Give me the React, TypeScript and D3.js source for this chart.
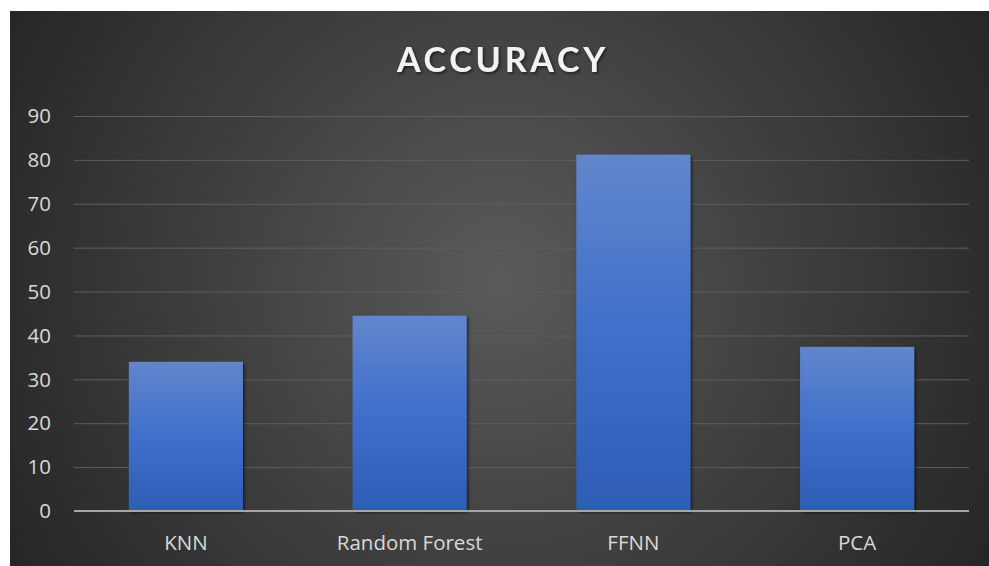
import * as d3 from 'd3';
import { FC, useEffect, useRef } from 'react';

const categories = ['KNN', 'Random Forest', 'FFNN', 'PCA'];
const accuracy = [34, 44.5, 81.2, 37.4];
const yTicks = [0, 10, 20, 30, 40, 50, 60, 70, 80, 90];

const W = 989;
const H = 566;
const labelFont = '"Open Sans", Lato, sans-serif';

const App: FC = () => {
  const ref = useRef<SVGSVGElement>(null);

  useEffect(() => {
    const svg = d3.select(ref.current);
    svg.selectAll('*').remove();

    const margin = { top: 116, right: 20, bottom: 55, left: 74 };
    const x = d3
      .scaleBand()
      .domain(categories)
      .range([margin.left, 969])
      .paddingInner(0.49)
      .paddingOuter(0.245);
    const y = d3.scaleLinear().domain([0, 90]).range([511, 116]);

    const defs = svg.append('defs');
    const bg = defs
      .append('radialGradient')
      .attr('id', 'bg')
      .attr('gradientUnits', 'userSpaceOnUse')
      .attr('cx', 500)
      .attr('cy', 280)
      .attr('r', 560);
    bg.append('stop').attr('offset', '0%').attr('stop-color', '#5a5a5a');
    bg.append('stop').attr('offset', '100%').attr('stop-color', '#262626');

    const barGrad = defs
      .append('linearGradient')
      .attr('id', 'bar')
      .attr('x1', 0)
      .attr('y1', 0)
      .attr('x2', 0)
      .attr('y2', 1);
    barGrad.append('stop').attr('offset', '0%').attr('stop-color', '#6286cc');
    barGrad.append('stop').attr('offset', '50%').attr('stop-color', '#3f6fca');
    barGrad.append('stop').attr('offset', '100%').attr('stop-color', '#2e5db5');

    const shadow = defs.append('filter').attr('id', 'shadow');
    shadow
      .append('feDropShadow')
      .attr('dx', 1.5)
      .attr('dy', 1.5)
      .attr('stdDeviation', 1.5)
      .attr('flood-color', '#000')
      .attr('flood-opacity', 0.6);

    svg
      .append('rect')
      .attr('x', 10)
      .attr('y', 11)
      .attr('width', W - 10)
      .attr('height', H - 11)
      .attr('fill', 'url(#bg)');

    // gridlines
    svg
      .append('g')
      .selectAll('line')
      .data(yTicks.filter((t) => t > 0))
      .enter()
      .append('line')
      .attr('x1', margin.left)
      .attr('x2', 969)
      .attr('y1', (d) => y(d) + 0.5)
      .attr('y2', (d) => y(d) + 0.5)
      .attr('stroke', '#5e5e5e')
      .attr('stroke-width', 1);

    // y tick labels
    svg
      .append('g')
      .selectAll('text')
      .data(yTicks)
      .enter()
      .append('text')
      .attr('x', 51)
      .attr('y', (d) => y(d))
      .attr('dy', '0.35em')
      .attr('text-anchor', 'end')
      .attr('fill', '#d9d9d9')
      .attr('font-size', 20.5)
      .attr('font-family', labelFont)
      .text((d) => d);

    // bars
    svg
      .append('g')
      .selectAll('rect')
      .data(accuracy)
      .enter()
      .append('rect')
      .attr('x', (_, i) => x(categories[i])!)
      .attr('y', (d) => y(d))
      .attr('width', x.bandwidth())
      .attr('height', (d) => 511 - y(d))
      .attr('fill', 'url(#bar)')
      .attr('filter', 'url(#shadow)');

    // baseline
    svg
      .append('line')
      .attr('x1', margin.left)
      .attr('x2', 969)
      .attr('y1', 511)
      .attr('y2', 511)
      .attr('stroke', '#a6a6a6')
      .attr('stroke-width', 2);

    // x labels
    svg
      .append('g')
      .selectAll('text')
      .data(categories)
      .enter()
      .append('text')
      .attr('x', (d) => x(d)! + x.bandwidth() / 2)
      .attr('y', 550)
      .attr('text-anchor', 'middle')
      .attr('fill', '#d9d9d9')
      .attr('font-size', 20.5)
      .attr('font-family', labelFont)
      .text((d) => d);

    // title
    svg
      .append('text')
      .attr('x', 503)
      .attr('y', 72)
      .attr('text-anchor', 'middle')
      .attr('fill', '#f2f2f2')
      .attr('font-size', 34)
      .attr('font-weight', 'bold')
      .attr('letter-spacing', 3.8)
      .attr('font-family', 'Lato, "Open Sans", sans-serif')
      .attr('filter', 'url(#shadow)')
      .text('ACCURACY');
  }, []);

  return (
    <svg
      ref={ref}
      width={W}
      height={H}
      style={{ position: 'absolute', left: 0, top: 0, background: '#fff' }}
    />
  );
};

export default App;
